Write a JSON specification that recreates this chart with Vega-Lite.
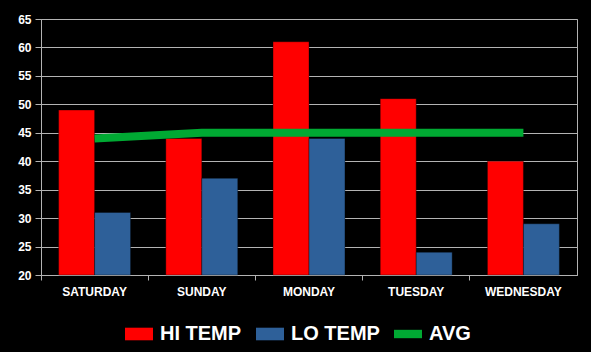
{
  "$schema": "https://vega.github.io/schema/vega-lite/v6.json",
  "width": 536,
  "height": 256,
  "autosize": {"type": "none"},
  "padding": {"left": 41, "top": 19, "right": 14, "bottom": 77},
  "background": "#000000",
  "config": {
    "view": {"stroke": "#b3b3b3", "strokeWidth": 1},
    "font": "Liberation Sans"
  },
  "data": {
    "values": [
      {"day": "SATURDAY", "series": "HI TEMP", "temp": 49},
      {"day": "SATURDAY", "series": "LO TEMP", "temp": 31},
      {"day": "SATURDAY", "series": "AVG", "temp": 44},
      {"day": "SUNDAY", "series": "HI TEMP", "temp": 44},
      {"day": "SUNDAY", "series": "LO TEMP", "temp": 37},
      {"day": "SUNDAY", "series": "AVG", "temp": 45},
      {"day": "MONDAY", "series": "HI TEMP", "temp": 61},
      {"day": "MONDAY", "series": "LO TEMP", "temp": 44},
      {"day": "MONDAY", "series": "AVG", "temp": 45},
      {"day": "TUESDAY", "series": "HI TEMP", "temp": 51},
      {"day": "TUESDAY", "series": "LO TEMP", "temp": 24},
      {"day": "TUESDAY", "series": "AVG", "temp": 45},
      {"day": "WEDNESDAY", "series": "HI TEMP", "temp": 40},
      {"day": "WEDNESDAY", "series": "LO TEMP", "temp": 29},
      {"day": "WEDNESDAY", "series": "AVG", "temp": 45}
    ]
  },
  "encoding": {
    "x": {
      "field": "day",
      "type": "nominal",
      "sort": null,
      "scale": {"paddingInner": 0, "paddingOuter": 0},
      "axis": {
        "title": null,
        "labelAngle": 0,
        "labelColor": "#ffffff",
        "labelFont": "Liberation Sans",
        "labelFontWeight": "bold",
        "labelFontSize": 12,
        "labelPadding": 6,
        "tickSize": 5,
        "tickColor": "#b3b3b3",
        "domainColor": "#b3b3b3",
        "bandPosition": 0,
        "grid": false
      }
    },
    "y": {
      "field": "temp",
      "type": "quantitative",
      "scale": {"domain": [20, 65], "nice": false, "zero": false},
      "axis": {
        "title": null,
        "values": [20, 25, 30, 35, 40, 45, 50, 55, 60, 65],
        "labelColor": "#ffffff",
        "labelFont": "Liberation Sans",
        "labelFontWeight": "bold",
        "labelFontSize": 12,
        "labelPadding": 4,
        "tickSize": 6,
        "tickColor": "#b3b3b3",
        "domainColor": "#b3b3b3",
        "gridColor": "#b3b3b3",
        "gridWidth": 1
      }
    },
    "color": {
      "field": "series",
      "type": "nominal",
      "scale": {
        "domain": ["HI TEMP", "LO TEMP", "AVG"],
        "range": ["#ff0000", "#2e6099", "#00a933"]
      },
      "legend": {
        "title": null,
        "orient": "none",
        "legendX": 84,
        "legendY": 301,
        "direction": "horizontal",
        "columns": 3,
        "labelColor": "#ffffff",
        "labelFont": "Liberation Sans",
        "labelFontWeight": "bold",
        "labelFontSize": 20,
        "labelOffset": 7,
        "columnPadding": 14,
        "symbolSize": 784,
        "symbolStrokeWidth": 0,
        "symbolOpacity": 1,
        "encode": {
          "symbols": {
            "update": {
              "shape": {"signal": "datum.value === 'AVG' ? 'M-1,-0.3H1V0.3H-1Z' : 'M-1,-0.45H1V0.45H-1Z'"},
              "fill": {"scale": "color", "field": "value"},
              "strokeWidth": {"value": 0},
              "opacity": {"value": 1}
            }
          }
        }
      }
    }
  },
  "layer": [
    {
      "transform": [{"filter": "datum.series !== 'AVG'"}],
      "mark": {"type": "bar", "stroke": "#000000", "strokeOpacity": 0.35, "strokeWidth": 1},
      "encoding": {
        "xOffset": {
          "field": "series",
          "type": "nominal",
          "sort": ["HI TEMP", "LO TEMP"],
          "scale": {"paddingInner": 0, "paddingOuter": 0.49}
        },
        "y2": {"datum": 20}
      }
    },
    {
      "transform": [{"filter": "datum.series === 'AVG'"}],
      "mark": {"type": "line", "strokeWidth": 8, "strokeCap": "butt"},
      "encoding": {}
    }
  ]
}
